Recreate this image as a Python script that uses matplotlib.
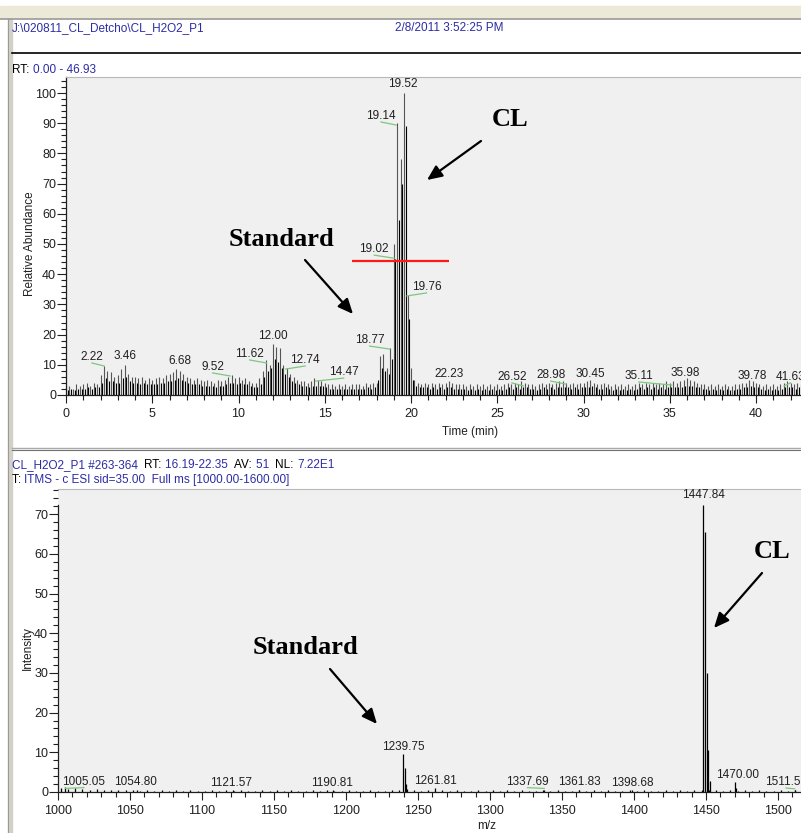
import matplotlib
matplotlib.use("Agg")
import matplotlib.pyplot as plt
import numpy as np
from matplotlib.patches import Rectangle, FancyArrowPatch
from matplotlib.lines import Line2D
from matplotlib.ticker import MultipleLocator

plt.rcParams['font.family'] = ['Liberation Sans', 'DejaVu Sans']

W, H = 801, 833
BLUE = '#2c2ca6'
GREEN = '#7cc87c'

# --- chromatogram (relative abundance), scan tops at 0.0, 0.2, ... min
tic_hi = [
    2.5, 3.0, 2.0, 3.5, 3.0,  3.5, 4.0, 3.0, 4.0, 3.5,
    6.5, 9.5, 8.0, 7.5, 6.0,  6.5, 8.5, 10.0, 7.0, 6.0,
    6.0, 5.5, 6.0, 5.0, 5.5,  5.0, 5.5, 6.0, 5.5, 6.5,
    7.0, 7.5, 8.5, 8.0, 7.0,  6.0, 5.5, 5.0, 5.5, 5.0,
    4.5, 5.0, 4.5, 4.0, 5.0,  4.5, 5.0, 6.0, 6.5, 5.5,
    6.0, 5.0, 5.5, 4.5, 4.0,  4.0, 5.5, 8.0, 11.5, 10.0,
    17.0, 16.0, 15.5, 10.0, 9.0,  7.0, 6.0, 5.0, 4.5, 4.5,
    4.0, 4.5, 5.5, 5.0, 4.5,  4.0, 3.5, 3.5, 3.0, 3.5,
    3.0, 3.5, 3.0, 3.5, 3.5,  3.5, 3.0, 4.0, 3.5, 4.0,
    4.0, 13.0, 13.6, 9.0, 15.5,  50.0, 90.0, 78.0, 100.0, 33.0,
    9.0, 5.0, 4.0, 3.5, 4.0,  3.5, 4.0, 3.5, 4.0, 3.5,
    4.0, 4.5, 4.0, 3.5, 3.5,  3.5, 3.0, 3.5, 3.0, 3.5,
    3.0, 3.5, 3.0, 3.5, 3.0,  3.5, 3.0, 3.5, 4.0, 3.5,
    4.0, 3.5, 4.5, 4.0, 3.5,  3.5, 3.0, 3.5, 4.0, 3.5,
    4.0, 3.5, 4.0, 4.5, 4.5,  4.0, 3.5, 4.0, 3.5, 4.0,
    4.0, 4.5, 5.0, 4.0, 3.5,  3.5, 4.0, 3.5, 3.0, 3.5,
    3.0, 3.5, 3.0, 3.5, 3.0,  3.5, 4.0, 3.5, 4.0, 3.5,
    4.0, 3.5, 4.0, 3.5, 4.5,  4.0, 4.5, 4.0, 4.5, 5.0,
    5.5, 5.0, 4.5, 4.0, 3.5,  3.5, 3.0, 3.5, 3.0, 3.5,
    3.0, 3.5, 3.0, 3.0, 3.5,  3.5, 4.0, 4.0, 5.0, 4.5,
    4.0, 3.5, 3.0, 3.5, 3.0,  3.5, 3.0, 3.5, 4.0, 4.5,
    4.0, 3.5, 4.0, 3.5,
]
# values between the scan tops (0.1, 0.3, ... min)
tic_lo = [
    1.5, 2.0, 1.5, 2.0, 2.0,  2.0, 2.5, 2.0, 2.5, 2.5,
    4.0, 5.5, 4.5, 4.5, 4.0,  4.0, 5.5, 6.0, 4.5, 4.0,
    4.0, 3.5, 4.0, 3.5, 3.5,  3.5, 3.5, 4.0, 4.0, 4.5,
    4.5, 5.0, 5.5, 5.0, 4.5,  4.0, 3.5, 3.5, 3.5, 3.0,
    3.0, 3.0, 3.0, 2.5, 3.0,  3.0, 3.5, 4.0, 4.0, 3.5,
    4.0, 3.5, 3.5, 3.0, 2.5,  2.5, 3.5, 6.0, 8.0, 9.0,
    12.0, 11.0, 9.0, 7.0, 6.0,  4.5, 4.0, 3.5, 3.0, 3.0,
    2.5, 3.0, 3.0, 3.0, 3.0,  2.5, 2.0, 2.0, 2.0, 2.0,
    2.0, 2.0, 2.0, 2.0, 2.0,  2.0, 2.0, 2.5, 2.0, 2.5,
    5.0, 9.0, 8.0, 7.0, 12.0,  45.0, 58.0, 70.0, 89.0, 25.0,
    5.0, 3.0, 2.5, 2.5, 2.5,  2.0, 2.5, 2.0, 2.5, 2.0,
    2.5, 2.5, 2.0, 2.0, 2.0,  2.0, 1.5, 2.0, 1.5, 2.0,
    1.5, 2.0, 1.5, 2.0, 1.5,  2.0, 1.5, 2.0, 2.5, 2.0,
    2.5, 2.0, 2.5, 2.5, 2.0,  2.0, 1.5, 2.0, 2.5, 2.0,
    2.5, 2.0, 2.5, 2.5, 2.5,  2.5, 2.0, 2.5, 2.0, 2.5,
    2.5, 2.5, 3.0, 2.5, 2.0,  2.0, 2.5, 2.0, 1.5, 2.0,
    1.5, 2.0, 1.5, 2.0, 1.5,  2.0, 2.5, 2.0, 2.5, 2.0,
    2.5, 2.0, 2.5, 2.0, 2.5,  2.5, 2.5, 2.5, 2.5, 3.0,
    3.0, 3.0, 2.5, 2.5, 2.0,  2.0, 1.5, 2.0, 1.5, 2.0,
    1.5, 2.0, 1.5, 1.5, 2.0,  2.0, 2.5, 2.5, 3.0, 2.5,
    2.5, 2.0, 1.5, 2.0, 1.5,  2.0, 1.5, 2.0, 2.5, 2.5,
    2.5, 2.0, 2.5, 2.0,
]
scan_step = 0.2

# labelled retention times
rt_peaks = [2.22, 3.46, 6.68, 9.52, 11.62, 12.00, 12.74, 14.47, 18.77, 19.02,
            19.14, 19.52, 19.76, 22.23, 26.52, 28.98, 30.45, 35.11, 35.98, 39.78, 41.63]
# where each label sits (time, abundance)
rt_label_pos = [(1.5, 12.6), (3.4, 12.8), (6.6, 11.3), (8.5, 9.3), (10.65, 13.6),
                (11.97, 19.5), (13.86, 11.6), (16.1, 7.6), (17.6, 18.2), (17.87, 48.3),
                (18.26, 92.4), (19.5, 103.0), (20.9, 35.8), (22.2, 7.0), (25.85, 6.0),
                (28.1, 6.6), (30.4, 7.0), (33.2, 6.3), (35.9, 7.3), (39.8, 6.3), (42.0, 6.0)]

# --- averaged mass spectrum
ms_mz = [1005.05, 1054.80, 1121.57, 1190.81, 1239.75, 1240.75, 1241.75, 1242.70,
         1261.81, 1337.69, 1361.83, 1398.68, 1447.84, 1449.30, 1450.90, 1451.60,
         1452.90, 1470.00, 1471.00, 1511.60]
ms_int = [1.2, 0.6, 0.4, 0.4, 9.6, 6.0, 2.0, 0.8,
          0.9, 0.4, 0.5, 0.5, 72.2, 65.5, 30.0, 10.5,
          2.8, 2.6, 1.0, 0.6]
noise_int = [0.9, 0.8, 1.0, 0.7, 0.6, 0.8, 0.5, 0.4, 0.6, 0.5,
             0.4, 0.3, 0.5, 0.3, 0.4, 0.3, 0.5, 0.3, 0.4, 0.3,
             0.3, 0.4, 0.3, 0.5, 0.3, 0.4, 0.3, 0.3, 0.4, 0.3,
             0.5, 0.3, 0.4, 0.3, 0.3, 0.4, 0.3, 0.4, 0.3, 0.3,
             0.4, 0.3, 0.3, 0.4, 0.3, 0.3, 0.4, 0.5, 0.6, 0.4,
             0.3, 0.4, 0.3, 0.5, 0.3, 0.4, 0.3, 0.3, 0.4, 0.3,
             0.4, 0.3, 0.5, 0.3, 0.4, 0.3, 0.3, 0.4, 0.3, 0.4,
             0.3, 0.3, 0.4, 0.3, 0.5, 0.3, 0.4, 0.3, 0.3, 0.4,
             0.3, 0.4, 0.3, 0.3, 0.4, 0.3, 0.5, 0.3, 0.6, 0.4,
             0.5, 0.4, 0.3, 0.4, 0.3, 0.5, 0.3, 0.4, 0.3, 0.3,
             0.4, 0.3, 0.4, 0.3]
noise_start, noise_step = 1002, 5

mz_labels = [1005.05, 1054.80, 1121.57, 1190.81, 1239.75, 1261.81, 1337.69,
             1361.83, 1398.68, 1447.84, 1470.00, 1511.56]
mz_label_pos = [(1018, 2.5), (1053.5, 2.5), (1120, 2.3), (1190, 2.3), (1239.6, 11.3),
                (1262, 2.8), (1326, 2.5), (1362, 2.5), (1399, 2.3), (1448, 74.8),
                (1472, 4.3), (1505.6, 2.4)]


def fx(x):
    return x / W


def fy(y):
    return 1 - y / H


fig = plt.figure(figsize=(W / 100, H / 100), dpi=100)
fig.patch.set_facecolor('white')

# window chrome
fig.add_artist(Rectangle((0, fy(18)), 1, fy(6) - fy(18), transform=fig.transFigure,
                         color='#ECE9D8', zorder=0))
fig.add_artist(Line2D([0, 1], [fy(18.5)] * 2, transform=fig.transFigure, color='#9a9a9a', lw=1.2))
fig.add_artist(Rectangle((fx(8), 0), fx(4), fy(19), transform=fig.transFigure,
                         color='#D4D0C8', zorder=0))
fig.add_artist(Line2D([fx(8)] * 2, [0, fy(19)], transform=fig.transFigure, color='#9a9a9a', lw=0.8))
fig.add_artist(Line2D([fx(12), 1], [fy(53)] * 2, transform=fig.transFigure, color='black', lw=1.2))
fig.add_artist(Line2D([fx(12), 1], [fy(448)] * 2, transform=fig.transFigure, color='#a8a8a8', lw=1.0))
fig.add_artist(Line2D([fx(12), 1], [fy(450)] * 2, transform=fig.transFigure, color='#707070', lw=0.8))

renderer = fig.canvas.get_renderer()


def rich(x_px, y_px, parts, size=8.5):
    x = x_px
    for s, c in parts:
        t = fig.text(fx(x), fy(y_px), s, color=c, fontsize=size, va='center', ha='left')
        x += t.get_window_extent(renderer=renderer).width


rich(12, 28, [("J:\\020811_CL_Detcho\\CL_H2O2_P1", BLUE)])
rich(395, 28, [("2/8/2011 3:52:25 PM", BLUE)])
rich(12, 70, [("RT: ", 'black'), ("0.00 - 46.93", BLUE)])
rich(12, 465, [("CL_H2O2_P1 #263-364  ", BLUE), ("RT: ", 'black'), ("16.19-22.35  ", BLUE),
               ("AV: ", 'black'), ("51  ", BLUE), ("NL: ", 'black'), ("7.22E1", BLUE)])
rich(12, 480, [("T: ", 'black'), ("ITMS - c ESI sid=35.00  Full ms [1000.00-1600.00]", BLUE)])


def style_axes(ax):
    ax.set_facecolor('#F0F0F0')
    ax.spines['right'].set_visible(False)
    ax.spines['top'].set_color('#b8b8b8')
    ax.spines['top'].set_linewidth(0.8)
    for s in ('left', 'bottom'):
        ax.spines[s].set_linewidth(0.9)
        ax.spines[s].set_color('#202020')
    ax.tick_params(axis='x', which='major', length=5.8, width=0.8, pad=3.4,
                   labelsize=9, colors='#202020')
    ax.tick_params(axis='x', which='minor', length=3.6, width=0.8, colors='#202020')
    ax.tick_params(axis='y', which='major', length=6.4, width=0.8, pad=0.8,
                   labelsize=9, colors='#202020')
    ax.tick_params(axis='y', which='minor', length=3.6, width=0.8, colors='#202020')


# --- top panel: chromatogram
ax1 = fig.add_axes([fx(66), fy(395), fx(801 - 66), (395 - 77) / H])
style_axes(ax1)
t_hi = np.arange(len(tic_hi)) * scan_step
t_lo = t_hi + scan_step / 2
ax1.vlines(t_hi, 0, tic_hi, colors='#555555', lw=0.8)
ax1.vlines(t_lo, 0, tic_lo, colors='black', lw=0.8)
ax1.set_xlim(0, 735 / 17.25)
ax1.set_ylim(0, 318 / 3.02)
ax1.xaxis.set_major_locator(MultipleLocator(5))
ax1.xaxis.set_minor_locator(MultipleLocator(1))
ax1.yaxis.set_major_locator(MultipleLocator(10))
ax1.yaxis.set_minor_locator(MultipleLocator(2))

for p, (lx, ly) in zip(rt_peaks, rt_label_pos):
    ax1.text(lx, ly, f"{p:.2f}", fontsize=8.5, ha='center', va='center', color='#202020',
             clip_on=False)
    if abs(lx - p) > 0.3:
        ax1.plot([lx, p], [ly - 2.0, ly - 3.0], color=GREEN, lw=0.9, clip_on=False)

ax1.hlines(44.4, 16.58, 22.2, colors='#ff1a1a', lw=1.6, zorder=5)

fig.text(fx(30), fy(244), "Relative Abundance", rotation=90, fontsize=8.5,
         ha='center', va='center', color='#202020')
fig.text(fx(470), fy(432), "Time (min)", fontsize=8.5, ha='center', va='center', color='#202020')

# --- bottom panel: spectrum
ax2 = fig.add_axes([fx(58), fy(792), fx(801 - 58), (792 - 489) / H])
style_axes(ax2)
noise_mz = noise_start + np.arange(len(noise_int)) * noise_step
ax2.vlines(noise_mz, 0, noise_int, colors='black', lw=0.9)
ax2.vlines(ms_mz, 0, ms_int, colors='black', lw=0.9)
ax2.set_xlim(1000, 1000 + 743 / 1.44)
ax2.set_ylim(0, 303 / 3.97)
ax2.spines['left'].set_bounds(0, 72.2)
ax2.xaxis.set_major_locator(MultipleLocator(50))
ax2.xaxis.set_minor_locator(MultipleLocator(10))
ax2.yaxis.set_major_locator(MultipleLocator(10))
ax2.yaxis.set_minor_locator(MultipleLocator(2))

for p, (lx, ly) in zip(mz_labels, mz_label_pos):
    ax2.text(lx, ly, f"{p:.2f}", fontsize=8.5, ha='center', va='center', color='#202020',
             clip_on=False)
    if abs(lx - p) > 3:
        ax2.plot([lx, p], [ly - 1.4, ly - 1.6], color=GREEN, lw=0.9, clip_on=False)

fig.text(fx(28), fy(648), "Intensity", rotation=90, fontsize=8.5,
         ha='center', va='center', color='#202020')
fig.text(fx(487), fy(826), "m/z", fontsize=8.5, ha='center', va='center', color='#202020')

# --- call-outs
big = dict(fontsize=19, fontweight='bold', family=['Liberation Serif', 'DejaVu Serif'],
           ha='center', va='center', color='black')
fig.text(fx(282), fy(240), "Standard", **big)
fig.text(fx(510), fy(120), "CL", **big)
fig.text(fx(305), fy(647), "Standard", **big)
fig.text(fx(772), fy(552), "CL", **big)

arrows = [((305, 260), (353, 314)), ((481, 141), (427, 180)),
          ((330, 669), (377, 724)), ((762, 573), (714, 628))]
for (x0, y0), (x1, y1) in arrows:
    fig.add_artist(FancyArrowPatch((fx(x0), fy(y0)), (fx(x1), fy(y1)),
                                   transform=fig.transFigure,
                                   arrowstyle='-|>,head_length=0.9,head_width=0.4',
                                   mutation_scale=10, lw=1.6, color='black',
                                   shrinkA=0, shrinkB=0, zorder=10))

fig.savefig("out.png", dpi=100)
